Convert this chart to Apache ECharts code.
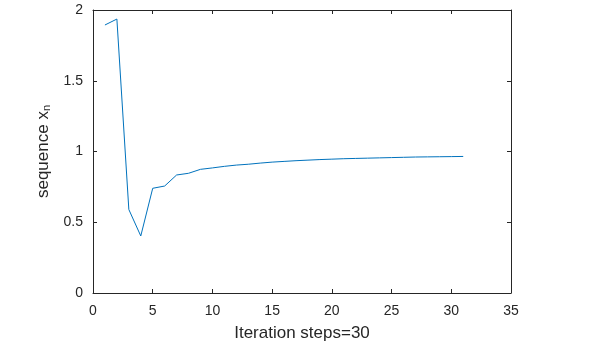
<!DOCTYPE html>
<html>
<head>
<meta charset="utf-8">
<script src="https://cdn.jsdelivr.net/npm/echarts@6/dist/echarts.min.js"></script>
<style>html,body{margin:0;padding:0;background:#fff;}#c{width:589px;height:347px;}</style>
</head>
<body>
<div id="c"></div>
<script>
const steps = [1,2,3,4,5,6,7,8,9,10,11,12,13,14,15,16,17,18,19,20,21,22,23,24,25,26,27,28,29,30,31];
const xn = [1.894,1.936,0.59,0.403,0.74,0.756,0.834,0.846,0.874,0.884,0.895,0.904,0.91,0.918,0.925,0.93,0.935,0.939,0.943,0.946,0.949,0.951,0.953,0.955,0.957,0.959,0.961,0.962,0.963,0.964,0.965];
const xTicks = [0,35,5];
const yTicks = [0,2,0.5];

const FONT = 'Liberation Sans, Arial, sans-serif';
const chart = echarts.init(document.getElementById('c'));
const labelStyle = {color:'#262626', fontSize:14, fontFamily:FONT};
const tickIn = {show:true, inside:true, length:4, lineStyle:{color:'#262626', width:1}};
const lineSt = {show:true, onZero:false, lineStyle:{color:'#262626', width:1}};
chart.setOption({
  animation:false,
  backgroundColor:'#ffffff',
  grid:{left:93, right:78, top:10, bottom:54},
  xAxis:[{
    type:'value', min:xTicks[0], max:xTicks[1], interval:xTicks[2], position:'bottom',
    axisLine:lineSt, axisTick:tickIn, splitLine:{show:false},
    axisLabel:Object.assign({margin:11}, labelStyle),
    name:'Iteration steps=30', nameLocation:'middle', nameGap:32,
    nameTextStyle:{color:'#262626', fontSize:17, fontFamily:FONT}
  },{
    type:'value', min:xTicks[0], max:xTicks[1], interval:xTicks[2], position:'top',
    axisLine:lineSt, axisTick:tickIn, axisLabel:{show:false}, splitLine:{show:false}
  }],
  yAxis:[{
    type:'value', min:yTicks[0], max:yTicks[1], interval:yTicks[2], position:'left',
    axisLine:lineSt, axisTick:tickIn, splitLine:{show:false},
    axisLabel:Object.assign({margin:10}, labelStyle),
    name:'{a|sequence x}{s|n}', nameLocation:'middle', nameGap:40, nameRotate:90,
    nameTextStyle:{rich:{
      a:{color:'#262626', fontSize:17, fontFamily:FONT},
      s:{color:'#262626', fontSize:11, fontFamily:FONT, verticalAlign:'bottom', padding:[8,0,0,0]}
    }}
  },{
    type:'value', min:yTicks[0], max:yTicks[1], interval:yTicks[2], position:'right',
    axisLine:lineSt, axisTick:tickIn, axisLabel:{show:false}, splitLine:{show:false}
  }],
  series:[{
    type:'line', xAxisIndex:0, yAxisIndex:0,
    data: steps.map((s,i)=>[s, xn[i]]),
    showSymbol:false, symbol:'none',
    lineStyle:{color:'#0072BD', width:1}
  }]
});
</script>
</body>
</html>
